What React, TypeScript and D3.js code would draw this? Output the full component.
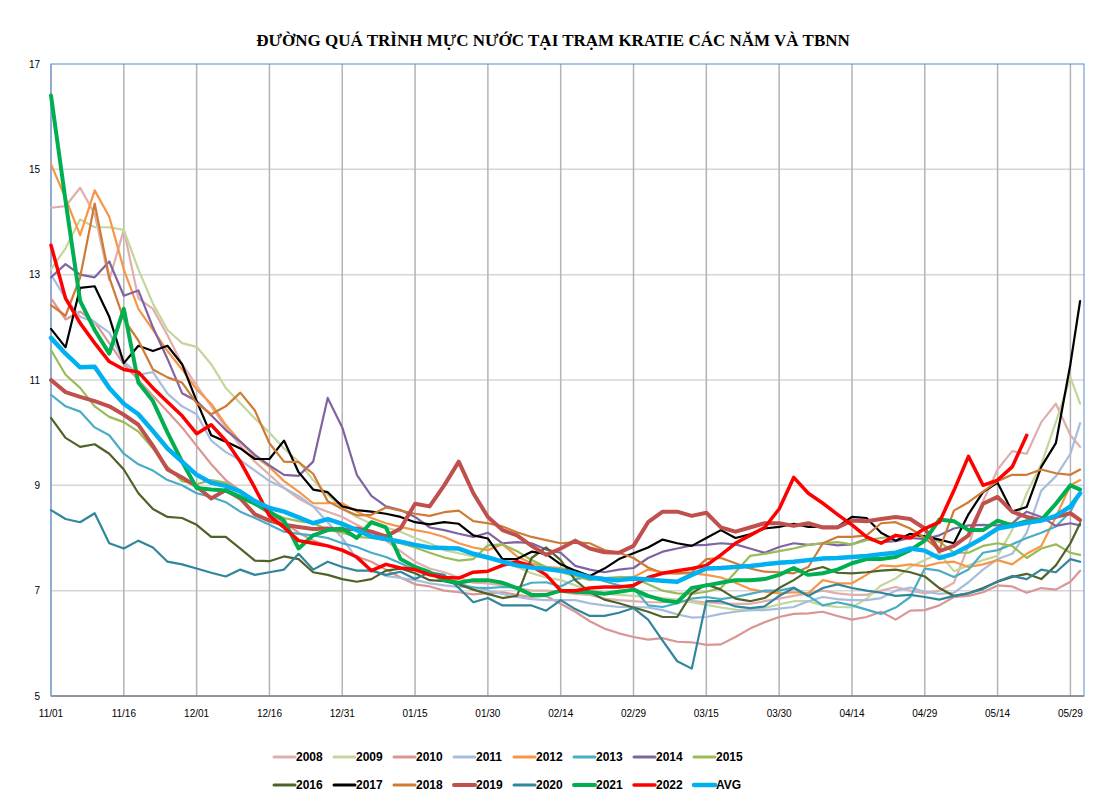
import * as d3 from "d3";
import { useEffect, useRef } from "react";

const width = 1097;
const height = 803;
const plot = { left: 51, right: 1084, top: 64, bottom: 696 };

const chartTitle = "ĐƯỜNG QUÁ TRÌNH MỰC NƯỚC TẠI TRẠM KRATIE CÁC NĂM VÀ TBNN";

// days counted from 11/01, one reading every 3 days, last one on 05/31
const sampleDays = [...d3.range(0, 211, 3), 212];

const tickDays = [0, 15, 30, 45, 60, 75, 90, 105, 120, 135, 150, 165, 180, 195, 210];
const tickLabels = ["11/01", "11/16", "12/01", "12/16", "12/31", "01/15", "01/30", "02/14", "02/29", "03/15", "03/30", "04/14", "04/29", "05/14", "05/29"];
const levelTicks = [5, 7, 9, 11, 13, 15, 17];

const seriesNames = ["2008", "2009", "2010", "2011", "2012", "2013", "2014", "2015", "2016", "2017", "2018", "2019", "2020", "2021", "2022", "AVG"];
const seriesColors = ["#e0aeac", "#c3d69b", "#d99694", "#a6bddb", "#f79646", "#4bacc6", "#8064a2", "#9bbb59", "#4f6228", "#000000", "#cf7b36", "#c0504d", "#31859c", "#00b050", "#ff0000", "#00b0f0"];
const seriesStroke = [2.2, 2.2, 2.2, 2.2, 2.2, 2.2, 2.2, 2.2, 2.2, 2.2, 2.2, 4, 2.2, 4, 3.5, 4.5];

const level2008 = [14.27, 14.3, 14.65, 14.15, 12.9, 13.85, 12.55, 12.35, 11.85, 11.3,
  10.9, 10.5, 10.1, 9.75, 9.45, 9.2, 8.95, 8.75, 8.6, 8.5,
  8.4, 8.25, 8.12, 7.95, 7.75, 7.55, 7.42, 7.35, 7.25, 7.15,
  7.14, 7.1, 7.05, 7.0, 7.0, 6.98, 6.94, 6.92, 6.85, 6.82,
  6.8, 6.78, 6.78, 6.8, 6.8, 6.78, 6.76, 6.75, 6.75, 6.8,
  6.85, 6.9, 6.95, 7.0, 6.95, 6.92, 6.92, 7.0, 7.07, 7.0,
  6.95, 7.0, 7.15, 7.85, 8.7, 9.3, 9.65, 9.6, 10.2, 10.55,
  9.95, 9.73];
const level2009 = [13.1, 13.5, 14.05, 13.9, 13.9, 13.85, 13.1, 12.45, 11.95, 11.7,
  11.63, 11.3, 10.85, 10.56, 10.27, 10.0, 9.7, 9.45, 9.1, 8.82,
  8.56, 8.4, 8.27, 8.2, 8.12, 8.0, 7.9, 7.77, 7.71, 7.65,
  7.62, 7.55, 7.45, 7.33, 7.25, 7.2, 7.1, 7.0, 6.95, 6.92,
  6.9, 6.88, 6.86, 6.83, 6.78, 6.73, 6.68, 6.64, 6.63, 6.67,
  6.74, 6.8, 6.8, 6.72, 6.69, 6.68, 6.85, 7.1, 7.23, 7.45,
  7.58, 7.71, 7.37, 7.48, 7.58, 7.66, 8.15, 8.85, 9.4, 10.2,
  11.05, 10.55];
const level2010 = [12.55, 12.15, 12.3, 12.1, 11.7, 11.3, 11.0, 10.7, 10.4, 10.1,
  9.75, 9.4, 9.1, 8.9, 8.65, 8.45, 8.3, 8.1, 7.95, 7.85,
  7.75, 7.65, 7.55, 7.4, 7.25, 7.12, 7.08, 7.0, 6.97, 6.93,
  6.95, 6.97, 6.92, 6.88, 6.9, 6.75, 6.6, 6.42, 6.28, 6.19,
  6.12, 6.07, 6.1, 6.03, 6.02, 5.97, 5.98, 6.12, 6.28, 6.4,
  6.5, 6.56, 6.57, 6.6, 6.52, 6.45, 6.5, 6.6, 6.45, 6.62,
  6.63, 6.72, 6.88, 6.9, 6.97, 7.1, 7.08, 6.96, 7.05, 7.02,
  7.17, 7.38];
const level2011 = [13.0, 12.55, 12.2, 12.1, 11.9, 11.35, 11.1, 11.15, 10.74, 10.5,
  10.35, 9.85, 9.63, 9.48, 9.28, 9.08, 8.95, 8.8, 8.6, 8.3,
  8.0, 7.6, 7.4, 7.28, 7.24, 7.2, 7.14, 7.1, 7.07, 7.07,
  7.0, 6.94, 6.88, 6.84, 6.82, 6.82, 6.82, 6.76, 6.72, 6.69,
  6.69, 6.68, 6.63, 6.55, 6.49, 6.5, 6.56, 6.6, 6.63, 6.63,
  6.66, 6.69, 6.8, 6.88, 6.84, 6.82, 6.82, 6.86, 7.0, 7.06,
  6.98, 6.94, 6.96, 7.16, 7.4, 7.6, 7.7, 8.1, 8.9, 9.17,
  9.6, 10.18];
const level2012 = [15.1, 14.45, 13.75, 14.6, 14.1, 13.1, 12.35, 11.95, 11.55, 11.2,
  10.82, 10.55, 10.15, 9.83, 9.55, 9.35, 9.08, 8.88, 8.66, 8.66,
  8.66, 8.5, 8.38, 8.28, 8.21, 8.15, 8.1, 8.02, 7.9, 7.82,
  7.77, 7.88, 7.65, 7.52, 7.45, 7.43, 7.36, 7.28, 7.24, 7.24,
  7.26, 7.4, 7.35, 7.33, 7.33, 7.3, 7.25, 7.15, 7.03, 6.98,
  6.95, 6.97, 6.95, 7.2, 7.14, 7.14, 7.3, 7.48, 7.46, 7.5,
  7.46, 7.53, 7.55, 7.45, 7.5, 7.58, 7.5, 7.7, 7.85, 8.4,
  9.0, 9.1];
const level2013 = [10.72, 10.5, 10.4, 10.1, 9.95, 9.6, 9.4, 9.28, 9.1, 9.0,
  8.85, 8.78, 8.68, 8.5, 8.38, 8.25, 8.12, 8.08, 8.05, 8.0,
  7.9, 7.83, 7.72, 7.64, 7.52, 7.39, 7.33, 7.2, 7.13, 7.06,
  7.05, 7.07, 7.06, 7.15, 7.16, 7.08, 7.22, 7.26, 7.18, 7.1,
  7.05, 6.72, 6.69, 6.76, 6.85, 6.88, 6.84, 6.88, 6.94, 7.0,
  7.0, 7.06, 6.9, 6.72, 6.78, 6.72, 6.64, 6.56, 6.68, 6.88,
  7.42, 7.38, 7.26, 7.4, 7.72, 7.77, 7.88, 8.0, 8.1, 8.22,
  8.5, 8.85];
const level2014 = [12.95, 13.2, 13.0, 12.95, 13.25, 12.6, 12.7, 12.0, 11.4, 10.75,
  10.6, 10.33, 10.05, 9.83, 9.58, 9.38, 9.2, 9.18, 9.45, 10.66,
  10.1, 9.2, 8.8, 8.6, 8.53, 8.4, 8.2, 8.15, 8.08, 8.02,
  8.1, 7.9, 7.92, 7.9, 7.78, 7.72, 7.47, 7.4, 7.35, 7.4,
  7.43, 7.62, 7.74, 7.8, 7.86, 7.87, 7.9, 7.88, 7.8, 7.72,
  7.83, 7.9, 7.87, 7.9, 7.86, 7.88, 7.98, 7.92, 7.94, 8.0,
  7.98, 8.05, 8.18, 8.24, 8.25, 8.24, 8.28, 8.5, 8.4, 8.23,
  8.28, 8.24];
const level2015 = [11.57, 11.1, 10.85, 10.5, 10.3, 10.2, 10.02, 9.7, 9.35, 9.08,
  9.02, 9.1, 9.05, 8.88, 8.65, 8.5, 8.38, 8.32, 8.28, 8.16,
  8.1, 8.02, 8.0, 7.96, 7.9, 7.82, 7.72, 7.63, 7.57, 7.6,
  7.86, 7.88, 7.75, 7.58, 7.45, 7.35, 7.28, 7.2, 7.24, 7.26,
  7.25, 7.12, 7.0, 6.95, 6.94, 6.98, 7.05, 7.35, 7.66, 7.7,
  7.75, 7.8, 7.87, 7.9, 7.92, 7.88, 7.96, 8.0, 8.04, 8.03,
  8.02, 7.93, 7.72, 7.72, 7.85, 7.9, 7.85, 7.62, 7.8, 7.88,
  7.72, 7.68];
const level2016 = [10.28, 9.9, 9.73, 9.78, 9.6, 9.3, 8.85, 8.55, 8.4, 8.38,
  8.25, 8.02, 8.02, 7.8, 7.57, 7.56, 7.65, 7.6, 7.35, 7.3,
  7.22, 7.17, 7.22, 7.38, 7.42, 7.33, 7.2, 7.18, 7.12, 7.02,
  6.94, 6.86, 6.9, 7.62, 7.82, 7.58, 7.2, 6.97, 6.83, 6.76,
  6.68, 6.6, 6.5, 6.5, 6.95, 7.12, 7.02, 6.85, 6.8, 6.86,
  7.05, 7.2, 7.38, 7.45, 7.34, 7.33, 7.35, 7.38, 7.4, 7.35,
  7.27, 7.05, 6.9, 6.95, 7.05, 7.17, 7.26, 7.32, 7.22, 7.48,
  7.9, 8.28];
const level2017 = [11.97, 11.62, 12.75, 12.78, 12.2, 11.32, 11.65, 11.55, 11.65, 11.3,
  10.6, 9.95, 9.83, 9.7, 9.5, 9.5, 9.85, 9.25, 8.92, 8.87,
  8.6, 8.53, 8.5, 8.46, 8.4, 8.3, 8.26, 8.3, 8.27, 8.05,
  7.99, 7.6, 7.6, 7.74, 7.7, 7.5, 7.38, 7.28, 7.42, 7.6,
  7.71, 7.82, 7.97, 7.9, 7.85, 8.0, 8.15, 8.0, 8.07, 8.18,
  8.21, 8.27, 8.21, 8.21, 8.21, 8.4, 8.38, 8.1, 7.95, 8.08,
  8.03, 7.97, 7.9, 8.45, 8.87, 9.05, 8.5, 8.59, 9.35, 9.8,
  11.3, 12.5];
const level2018 = [12.42, 12.22, 12.95, 14.35, 12.95, 12.15, 11.75, 11.2, 11.05, 10.95,
  10.56, 10.35, 10.5, 10.76, 10.42, 9.8, 9.45, 9.44, 9.22, 8.7,
  8.55, 8.43, 8.44, 8.58, 8.52, 8.46, 8.42, 8.49, 8.52, 8.32,
  8.28, 8.22, 8.11, 8.02, 7.96, 7.9, 7.92, 7.9, 7.77, 7.72,
  7.62, 7.44, 7.33, 7.33, 7.35, 7.6, 7.62, 7.52, 7.42, 7.36,
  7.35, 7.33, 7.45, 7.9, 8.02, 8.02, 8.05, 8.28, 8.3, 8.18,
  8.0, 7.77, 8.52, 8.68, 8.88, 9.08, 9.2, 9.2, 9.3, 9.23,
  9.2, 9.3];
const level2019 = [11.0, 10.77, 10.68, 10.6, 10.5, 10.34, 10.15, 9.75, 9.3, 9.15,
  8.98, 8.75, 8.91, 8.75, 8.45, 8.33, 8.25, 8.21, 8.17, 8.18,
  8.15, 8.18, 8.12, 8.03, 8.18, 8.65, 8.6, 9.0, 9.45, 8.85,
  8.4, 8.15, 8.05, 7.85, 7.68, 7.8, 7.95, 7.8, 7.73, 7.72,
  7.85, 8.3, 8.5, 8.5, 8.42, 8.48, 8.2, 8.12, 8.2, 8.28,
  8.28, 8.23, 8.28, 8.2, 8.2, 8.33, 8.32, 8.36, 8.4, 8.36,
  8.18, 7.75, 7.85, 8.05, 8.65, 8.78, 8.5, 8.4, 8.34, 8.4,
  8.47, 8.34];
const level2020 = [8.53, 8.36, 8.3, 8.47, 7.9, 7.8, 7.95, 7.82, 7.55, 7.5,
  7.42, 7.34, 7.27, 7.4, 7.3, 7.35, 7.4, 7.7, 7.4, 7.55,
  7.45, 7.38, 7.38, 7.3, 7.36, 7.22, 7.35, 7.3, 7.05, 6.78,
  6.86, 6.72, 6.72, 6.72, 6.62, 6.82, 6.65, 6.52, 6.52, 6.58,
  6.67, 6.45, 6.05, 5.66, 5.52, 6.8, 6.8, 6.7, 6.67, 6.7,
  6.9, 7.05, 6.9, 7.05, 7.12, 7.05, 7.0, 6.96, 6.9, 6.92,
  6.88, 6.83, 6.9, 6.95, 7.03, 7.18, 7.28, 7.22, 7.4, 7.35,
  7.6, 7.55];
const level2021 = [16.4, 14.4, 12.5, 11.95, 11.5, 12.35, 10.95, 10.6, 10.0, 9.45,
  8.95, 8.92, 8.9, 8.78, 8.65, 8.5, 8.33, 7.8, 8.05, 8.15,
  8.18, 8.0, 8.3, 8.2, 7.6, 7.45, 7.35, 7.2, 7.15, 7.2,
  7.2, 7.15, 7.05, 6.92, 6.92, 7.0, 6.98, 6.97, 6.94, 6.98,
  7.02, 6.9, 6.82, 6.78, 7.05, 7.1, 7.15, 7.2, 7.2, 7.22,
  7.3, 7.43, 7.3, 7.33, 7.4, 7.52, 7.6, 7.6, 7.64, 7.77,
  7.95, 8.35, 8.32, 8.15, 8.15, 8.33, 8.24, 8.32, 8.34, 8.65,
  9.0, 8.92];
const level2022 = [13.56, 12.55, 12.08, 11.7, 11.35, 11.2, 11.15, 10.85, 10.58, 10.32,
  9.98, 10.15, 9.85, 9.45, 8.95, 8.42, 8.2, 7.95, 7.9, 7.85,
  7.77, 7.64, 7.38, 7.5, 7.43, 7.4, 7.3, 7.25, 7.24, 7.35,
  7.37, 7.48, 7.55, 7.47, 7.3, 7.0, 7.0, 7.05, 7.07, 7.07,
  7.1, 7.25, 7.33, 7.38, 7.42, 7.48, 7.68, 7.9, 8.05, 8.2,
  8.55, 9.15, 8.85, 8.66, 8.45, 8.25, 8.02, 7.9, 8.05, 8.0,
  8.18, 8.3, 8.9, 9.55, 9.0, 9.1, 9.35, 9.95, null, null,
  null, null];
const levelAvg = [11.8, 11.5, 11.24, 11.25, 10.85, 10.55, 10.35, 10.03, 9.7, 9.45,
  9.2, 9.05, 8.99, 8.88, 8.7, 8.57, 8.5, 8.39, 8.28, 8.36,
  8.27, 8.15, 8.03, 7.98, 7.93, 7.87, 7.82, 7.81, 7.8, 7.7,
  7.63, 7.55, 7.48, 7.44, 7.41, 7.38, 7.33, 7.25, 7.22, 7.2,
  7.23, 7.21, 7.19, 7.17, 7.3, 7.42, 7.43, 7.45, 7.47, 7.5,
  7.53, 7.55, 7.58, 7.61, 7.62, 7.64, 7.66, 7.69, 7.72, 7.8,
  7.76, 7.62, 7.7, 7.85, 8.0, 8.18, 8.23, 8.29, 8.33, 8.42,
  8.6, 8.85];

const seriesLevels = [level2008, level2009, level2010, level2011, level2012, level2013, level2014, level2015,
  level2016, level2017, level2018, level2019, level2020, level2021, level2022, levelAvg];

type Point = { day: number; level: number | null };

export default function App() {
  const svgRef = useRef<SVGSVGElement | null>(null);

  useEffect(() => {
    if (!svgRef.current) return;
    const svg = d3.select(svgRef.current);
    svg.selectAll("*").remove();

    const x = d3.scaleLinear().domain([0, 212.8]).range([plot.left, plot.right]);
    const y = d3.scaleLinear().domain([5, 17]).range([plot.bottom, plot.top]);

    svg
      .append("text")
      .attr("x", 553)
      .attr("y", 46)
      .attr("text-anchor", "middle")
      .attr("font-family", "'Liberation Serif', 'Times New Roman', serif")
      .attr("font-weight", "bold")
      .attr("font-size", 17)
      .text(chartTitle);

    // grid
    svg
      .append("g")
      .selectAll("line")
      .data(levelTicks.filter((t) => t > 5 && t < 17))
      .join("line")
      .attr("x1", plot.left)
      .attr("x2", plot.right)
      .attr("y1", (t) => y(t))
      .attr("y2", (t) => y(t))
      .attr("stroke", "#d6d6d6")
      .attr("stroke-width", 1.5);

    svg
      .append("g")
      .selectAll("line")
      .data(tickDays.filter((d) => d > 0))
      .join("line")
      .attr("x1", (d) => x(d))
      .attr("x2", (d) => x(d))
      .attr("y1", plot.top)
      .attr("y2", plot.bottom)
      .attr("stroke", "#b4b4b4")
      .attr("stroke-width", 1.5);

    // frame
    svg
      .append("rect")
      .attr("x", plot.left)
      .attr("y", plot.top)
      .attr("width", plot.right - plot.left)
      .attr("height", plot.bottom - plot.top)
      .attr("fill", "none")
      .attr("stroke", "#5a8ad0")
      .attr("stroke-width", 1);
    svg
      .append("line")
      .attr("x1", plot.left)
      .attr("x2", plot.right)
      .attr("y1", plot.bottom)
      .attr("y2", plot.bottom)
      .attr("stroke", "#868686")
      .attr("stroke-width", 1.5);
    svg
      .append("line")
      .attr("x1", plot.left)
      .attr("x2", plot.left)
      .attr("y1", plot.top)
      .attr("y2", plot.bottom)
      .attr("stroke", "#8aa6cc")
      .attr("stroke-width", 1.5);

    // axis labels
    svg
      .append("g")
      .selectAll("text")
      .data(levelTicks)
      .join("text")
      .attr("x", 40)
      .attr("y", (t) => y(t))
      .attr("dy", "0.35em")
      .attr("text-anchor", "end")
      .attr("font-family", "'Liberation Sans', Arial, sans-serif")
      .attr("font-size", 10)
      .text((t) => t);

    svg
      .append("g")
      .selectAll("text")
      .data(tickDays)
      .join("text")
      .attr("x", (d) => x(d))
      .attr("y", 717)
      .attr("text-anchor", "middle")
      .attr("font-family", "'Liberation Sans', Arial, sans-serif")
      .attr("font-size", 10)
      .text((_d, i) => tickLabels[i]);

    // series
    const line = d3
      .line<Point>()
      .defined((p) => p.level !== null)
      .x((p) => x(p.day))
      .y((p) => y(p.level as number))
      .curve(d3.curveLinear);

    const lines = svg.append("g");
    seriesNames.forEach((name, i) => {
      const points: Point[] = sampleDays.map((day, k) => ({ day, level: seriesLevels[i][k] }));
      lines
        .append("path")
        .datum(points)
        .attr("fill", "none")
        .attr("stroke", seriesColors[i])
        .attr("stroke-width", seriesStroke[i])
        .attr("stroke-linejoin", "round")
        .attr("stroke-linecap", "round")
        .attr("d", line)
        .append("title")
        .text(name);
    });

    // legend
    const legend = svg
      .append("g")
      .selectAll("g")
      .data(seriesNames)
      .join("g")
      .attr("transform", (_n, i) => `translate(${274 + (i % 8) * 60}, ${757 + Math.floor(i / 8) * 28})`);
    legend
      .append("line")
      .attr("x1", 0)
      .attr("x2", 21)
      .attr("stroke", (_n, i) => seriesColors[i])
      .attr("stroke-width", (_n, i) => Math.max(3, seriesStroke[i]))
      .attr("stroke-linecap", "round");
    legend
      .append("text")
      .attr("x", 22)
      .attr("dy", "0.36em")
      .attr("font-family", "'Liberation Sans', Arial, sans-serif")
      .attr("font-weight", "bold")
      .attr("font-size", 12)
      .text((n) => n);
  }, []);

  return (
    <svg
      ref={svgRef}
      width={width}
      height={height}
      style={{ position: "absolute", left: 0, top: 0, background: "#fff" }}
    />
  );
}
